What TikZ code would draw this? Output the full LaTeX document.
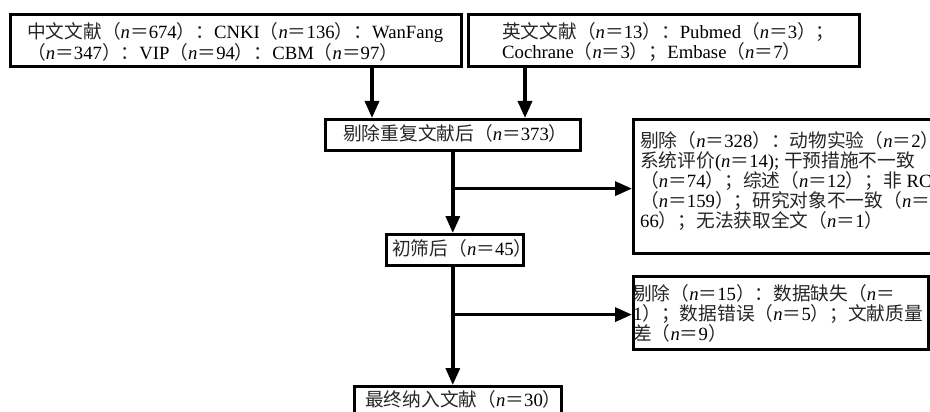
\documentclass[tikz,border=0pt]{standalone}
\usepackage{fontspec}
\setmainfont{Liberation Serif}
\newfontfamily\cjkf{Noto Sans CJK SC}
\usetikzlibrary{arrows.meta,calc}
\newcommand\zh[1]{{\cjkf\color{black!85}#1}}
\newcommand\nv[1]{\zh{（}\textit{n}\zh{＝}#1\zh{）}}
\begin{document}
\begin{tikzpicture}[x=1pt,y=-1pt,
  box/.style={draw,line width=2.6pt,inner sep=0pt,anchor=north west},
  txt/.style={inner sep=0pt,align=left,font=\fontsize{18.7}{20}\selectfont},
  arr/.style={line width=3.4pt,-{Triangle[width=14pt,length=17pt]}},
  ln/.style={line width=3.4pt}]
\useasboundingbox (0,0) rectangle (930,412);
\clip (0,0) rectangle (930,412);
% boxes
\node[box,minimum width=451pt,minimum height=52pt] (b1) at (9,13) {};
\node[box,minimum width=391pt,minimum height=52pt] (b2) at (467,13) {};
\node[box,minimum width=255pt,minimum height=31pt] (b3) at (324,118) {};
\node[box,minimum width=137pt,minimum height=31pt] (b4) at (385,233) {};
\node[box,minimum width=312pt,minimum height=134pt] (b5) at (632,118) {};
\node[box,minimum width=295pt,minimum height=73pt] (b6) at (632,275) {};
\node[box,minimum width=207pt,minimum height=45pt] (b7) at (353,385) {};
% texts
\node[txt,anchor=north west] (t1) at (27,22)
  {\zh{中文文献}\nv{674}\zh{：}CNKI\nv{136}\zh{：}WanFang\\
   \nv{347}\zh{：}VIP\nv{94}\zh{：}CBM\nv{97}};
\node[txt,anchor=north west] (t2) at (502,22)
  {\zh{英文文献}\nv{13}\zh{：}Pubmed\nv{3}\zh{；}\\
   Cochrane\nv{3}\zh{；}Embase\nv{7}};
\node[txt,anchor=west] (t3) at (343,133) {\zh{剔除重复文献后}\nv{373}};
\begin{scope}
\clip ([shift={(1.3,-1.3)}]b4.south west) rectangle ([shift={(-1.3,1.3)}]b4.north east);
\node[txt,anchor=west] (t4) at (392,248) {\zh{初筛后}\nv{45}};
\end{scope}
\node[txt,anchor=north west] (t5) at (640,131)
  {\zh{剔除}\nv{328}\zh{：动物实验}\nv{2}\zh{；}\\
   \zh{系统评价}(\textit{n}\zh{＝}14); \zh{干预措施不一致}\\
   \nv{74}\zh{；综述}\nv{12}\zh{；非} RCT\\
   \nv{159}\zh{；研究对象不一致（}\textit{n}\zh{＝}\\
   66\zh{）；无法获取全文}\nv{1}};
\node[txt,anchor=north west] (t6) at (633,284)
  {\zh{剔除}\nv{15}\zh{：数据缺失（}\textit{n}\zh{＝}\\
   1\zh{）；数据错误}\nv{5}\zh{；文献质量}\\
   \zh{差}\nv{9}};
\node[txt,anchor=west] (t7) at (365,399) {\zh{最终纳入文献}\nv{30}};
% connectors
\path (b1.south west) ++(363,0) coordinate (a1);
\path (b2.south west) ++(58,0) coordinate (a2);
\draw[arr] (a1) -- (a1 |- b3.north);
\draw[arr] (a2) -- (a2 |- b3.north);
\path (b3.south) ++(0,37) coordinate (j1);
\draw[arr] (b3.south) -- (b3.south |- b4.north);
\draw[arr] (j1) -- (j1 -| b5.west);
\path (b3.south |- b4.south) coordinate (s4);
\path (s4) ++(0,48) coordinate (j2);
\draw[arr] (s4) -- (s4 |- b7.north);
\draw[arr] (j2) -- (j2 -| b6.west);
\end{tikzpicture}
\end{document}
